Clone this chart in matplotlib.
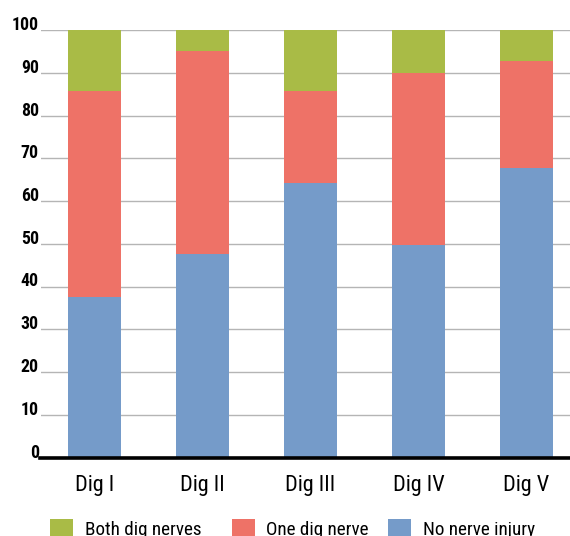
import matplotlib
matplotlib.use("Agg")
import matplotlib.pyplot as plt
from matplotlib.patches import Rectangle

# Share of injured digits per nerve-injury category (%)
digits = ["Dig I", "Dig II", "Dig III", "Dig IV", "Dig V"]
no_nerve = [37.6, 47.5, 64.3, 49.8, 67.7]
one_nerve = [48.1, 47.6, 21.4, 40.1, 25.1]
both_nerves = [14.3, 4.9, 14.3, 10.1, 7.2]
series_names = ["Both dig nerves", "One dig nerve", "No nerve injury"]
y_ticks = [0, 10, 20, 30, 40, 50, 60, 70, 80, 90, 100]

c_green = "#a9bb46"
c_red = "#ee7267"
c_blue = "#759bc9"

plt.rcParams["font.family"] = ["Roboto Condensed", "Archivo Narrow", "Liberation Sans Narrow", "DejaVu Sans"]

W, H = 570, 536
fig = plt.figure(figsize=(W / 100, H / 100), dpi=100)
ax = fig.add_axes([40.5 / W, (H - 457.5) / H, (W - 40.5) / W, 427.5 / H])

x = list(range(len(digits)))
width = 0.49
ax.bar(x, no_nerve, width, color=c_blue, zorder=2)
ax.bar(x, one_nerve, width, bottom=no_nerve, color=c_red, zorder=2)
bottom2 = [a + b for a, b in zip(no_nerve, one_nerve)]
ax.bar(x, both_nerves, width, bottom=bottom2, color=c_green, zorder=2)

ax.set_xlim(-0.5, 4.403)
ax.set_ylim(0, 100)
ax.set_yticks(y_ticks)
ax.set_yticklabels([str(t) for t in y_ticks], fontsize=12.8, fontweight="bold")
for lab in ax.get_yticklabels():
    lab.set_va("baseline")
ax.tick_params(axis="y", length=0, pad=1.2)
ax.set_xticks(x)
ax.set_xticklabels(digits, fontsize=16)
ax.tick_params(axis="x", length=0, pad=12.5)

ax.yaxis.grid(True, color="#b5b5b5", linewidth=1.0, zorder=0)
ax.set_axisbelow(True)
for s in ["top", "right", "left"]:
    ax.spines[s].set_visible(False)
ax.spines["bottom"].set_color("black")
ax.spines["bottom"].set_linewidth(2.6)
ax.spines["bottom"].set_zorder(3)

# Legend row along the bottom edge
legend_items = [
    (series_names[0], c_green, 50, 85),
    (series_names[1], c_red, 232, 266),
    (series_names[2], c_blue, 388, 423),
]
for name, col, sx, tx in legend_items:
    fig.patches.append(Rectangle((sx / W, 0), 23 / W, 17 / H, transform=fig.transFigure,
                                 facecolor=col, edgecolor="none"))
    fig.text(tx / W, (H - 535) / H, name, fontsize=13.8, va="baseline", ha="left")

fig.savefig("out.png", dpi=100)
